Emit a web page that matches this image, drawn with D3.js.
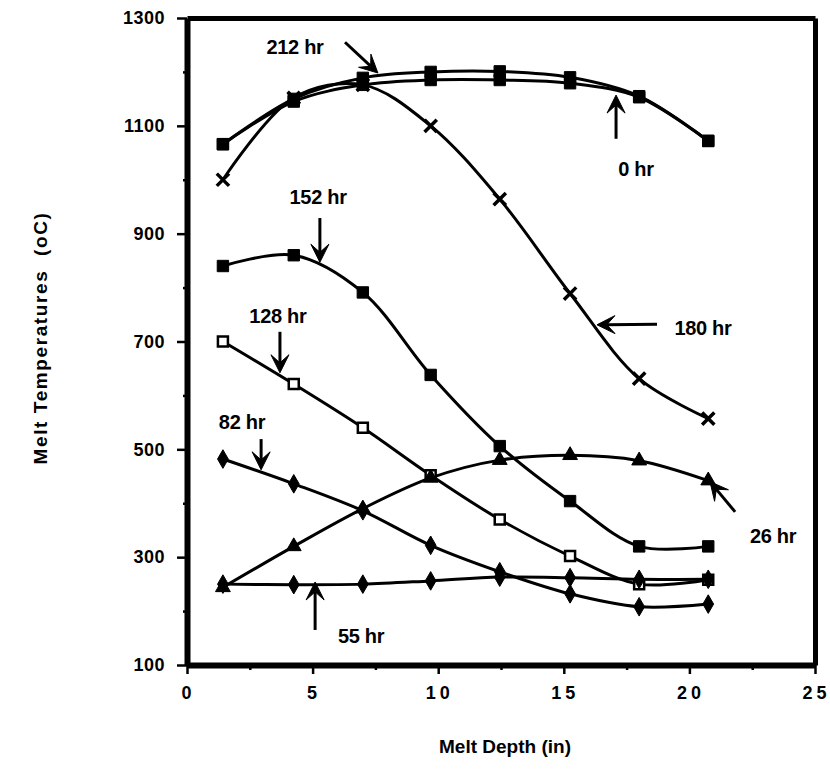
<!DOCTYPE html>
<html>
<head>
<meta charset="utf-8">
<script src="https://cdn.jsdelivr.net/npm/d3@7"></script>
<style>
html,body{margin:0;padding:0;background:#fff;}
svg{display:block;}
text{font-family:"Liberation Sans",Arial,Helvetica,sans-serif;fill:#000;}
</style>
</head>
<body>
<svg id="chart" width="830" height="784"></svg>
<script>
// ---- data ----
const depth = [1.43, 4.25, 7.0, 9.7, 12.45, 15.25, 18.0, 20.75];
const temp0hr   = [1066, 1145, 1176, 1185, 1185, 1179, 1153, 1072];
const temp212hr = [1066, 1150, 1189, 1200, 1201, 1190, 1155, 1072];
const temp180hr = [1000, 1152, 1176, 1100, 964, 789, 631, 557];
const temp152hr = [840, 860, 791, 638, 506, 404, 320, 320];
const temp128hr = [700, 621, 540, 452, 370, 302, 250, 258];
const temp82hr  = [482, 436, 386, 322, 273, 232, 208, 213];
const temp55hr  = [250, 249, 250, 256, 263, 262, 259, 259];
const temp26hr  = [244, 320, 390, 447, 480, 489, 479, 442];

const seriesNames   = ["0 hr", "212 hr", "180 hr", "152 hr", "128 hr", "82 hr", "55 hr", "26 hr"];
const seriesValues  = [temp0hr, temp212hr, temp180hr, temp152hr, temp128hr, temp82hr, temp55hr, temp26hr];
const seriesMarkers = ["square", "square", "cross", "square", "openSquare", "diamond", "diamond", "triangle"];

const xTicks = [0, 5, 10, 15, 20, 25];
const xMinorTicks = [2.5, 7.5, 12.5, 17.5, 22.5];
const yTicks = [100, 300, 500, 700, 900, 1100, 1300];
const yMinorTicks = [200, 400, 600, 800, 1000, 1200];

// annotation labels: text position and arrow (start -> tip) in data units
const annLabels = ["212 hr", "152 hr", "128 hr", "82 hr", "55 hr", "0 hr", "180 hr", "26 hr"];
const annTextX  = [4.3, 5.22, 3.62, 2.19, 6.93, 17.87, 20.54, 23.33];
const annTextY  = [1233, 955, 734, 538, 141, 1007, 712, 326];
const annFromX  = [6.29, 5.29, 3.70, 2.95, 5.10, 17.08, 18.71, 21.82];
const annFromY  = [1255, 929, 718, 519, 165, 1076, 732, 384];
const annToX    = [7.6, 5.29, 3.70, 2.95, 5.10, 17.08, 16.32, 20.82];
const annToY    = [1198, 847, 642, 462, 254, 1157, 731, 440];

// ---- chart ----
const svg = d3.select("#chart");
const xScale = d3.scaleLinear().domain([0, 25]).range([187, 815]);
const yScale = d3.scaleLinear().domain([100, 1300]).range([665, 18]);

// frame via axis domains (top and right without ticks)
const topAxis = svg.append("g").attr("transform", `translate(0,${yScale(1300)})`)
  .call(d3.axisTop(xScale).tickValues([]).tickSizeOuter(0));
const rightAxis = svg.append("g").attr("transform", `translate(${xScale(25)},0)`)
  .call(d3.axisRight(yScale).tickValues([]).tickSizeOuter(0));
[topAxis, rightAxis].forEach(g => g.select(".domain").attr("stroke", "#000").attr("stroke-width", 5));

// axes
const xMinor = svg.append("g").attr("transform", `translate(0,${yScale(100)})`)
  .call(d3.axisBottom(xScale).tickValues(xMinorTicks).tickSize(5).tickFormat(() => ""));
const yMinor = svg.append("g").attr("transform", `translate(${xScale(0)},0)`)
  .call(d3.axisLeft(yScale).tickValues(yMinorTicks).tickSize(4).tickFormat(() => ""));
const xAxis = svg.append("g").attr("transform", `translate(0,${yScale(100)})`)
  .call(d3.axisBottom(xScale).tickValues(xTicks).tickSize(9).tickSizeOuter(0).tickPadding(12));
const yAxis = svg.append("g").attr("transform", `translate(${xScale(0)},0)`)
  .call(d3.axisLeft(yScale).tickValues(yTicks).tickSize(10).tickSizeOuter(0).tickPadding(12).tickFormat(d3.format("d")));

[xMinor, yMinor].forEach(g => g.select(".domain").remove());
[xAxis, yAxis].forEach(g => g.select(".domain").attr("stroke", "#000").attr("stroke-width", 6));
[xAxis, xMinor, yAxis, yMinor].forEach(g => {
  g.selectAll(".tick line").attr("stroke", "#000").attr("stroke-width", 2.5);
});
xAxis.selectAll(".tick text")
  .attr("font-size", 18).attr("font-weight", "bold")
  .attr("letter-spacing", "4px").attr("dx", "1px")
  .style("font-family", "'Liberation Sans', Arial, sans-serif");
yAxis.selectAll(".tick text")
  .attr("font-size", 18).attr("font-weight", "bold").attr("letter-spacing", "0.5px")
  .style("font-family", "'Liberation Sans', Arial, sans-serif");

// axis titles
svg.append("text")
  .attr("x", 505).attr("y", 753).attr("text-anchor", "middle")
  .attr("font-size", 19).attr("font-weight", "bold")
  .text("Melt Depth (in)");
svg.append("text")
  .attr("transform", "translate(47,338) rotate(-90)")
  .attr("text-anchor", "middle")
  .attr("font-size", 19).attr("font-weight", "bold").attr("letter-spacing", "1.6px")
  .attr("xml:space", "preserve")
  .text("Melt Temperatures  (oC)");

// lines
const lineGen = d3.line()
  .x((d, i) => xScale(depth[i]))
  .y(d => yScale(d))
  .curve(d3.curveCatmullRom.alpha(0.5));

const gLines = svg.append("g");
seriesValues.forEach((vals, s) => {
  gLines.append("path")
    .datum(vals)
    .attr("d", lineGen)
    .attr("fill", "none")
    .attr("stroke", "#000")
    .attr("stroke-width", 3)
    .attr("stroke-linejoin", "round")
    .attr("stroke-linecap", "round");
});

// markers
const sym = {
  square: d3.symbol().type(d3.symbolSquare).size(130),
  openSquare: d3.symbol().type(d3.symbolSquare).size(100),
  diamond: d3.symbol().type(d3.symbolDiamond).size(100),
  triangle: d3.symbol().type(d3.symbolTriangle).size(95),
  cross: d3.symbol().type(d3.symbolX).size(100)
};
const gMarks = svg.append("g");
seriesValues.forEach((vals, s) => {
  const m = seriesMarkers[s];
  gMarks.selectAll(null)
    .data(vals)
    .enter()
    .append("path")
    .attr("transform", (d, i) => `translate(${xScale(depth[i])},${yScale(d)})`)
    .attr("d", sym[m])
    .attr("fill", m === "openSquare" ? "#fff" : (m === "cross" ? "none" : "#000"))
    .attr("stroke", "#000")
    .attr("stroke-width", m === "cross" ? 3.5 : (m === "openSquare" ? 2.5 : 1));
});

// annotations
const gAnn = svg.append("g");
annLabels.forEach((lab, i) => {
  gAnn.append("text")
    .attr("x", xScale(annTextX[i])).attr("y", yScale(annTextY[i]))
    .attr("text-anchor", "middle")
    .attr("font-size", 20).attr("font-weight", "bold")
    .attr("letter-spacing", "-0.3px")
    .text(lab);
  const x1 = xScale(annFromX[i]), y1 = yScale(annFromY[i]);
  const x2 = xScale(annToX[i]), y2 = yScale(annToY[i]);
  const ang = Math.atan2(y2 - y1, x2 - x1);
  const L = 18, W = 9;
  const cos = Math.cos(ang), sin = Math.sin(ang);
  const pt = (a, b) => [x2 + a * cos - b * sin, y2 + a * sin + b * cos];
  gAnn.append("path")
    .attr("d", d3.line()([[x1, y1], pt(-10, 0)]))
    .attr("stroke", "#000").attr("stroke-width", 3).attr("fill", "none");
  gAnn.append("path")
    .attr("d", d3.line()([pt(0, 0), pt(-L, -W), pt(-L * 0.55, 0), pt(-L, W)]) + "Z")
    .attr("fill", "#000").attr("stroke", "#000").attr("stroke-width", 1)
    .attr("stroke-linejoin", "round");
});
</script>
</body>
</html>
